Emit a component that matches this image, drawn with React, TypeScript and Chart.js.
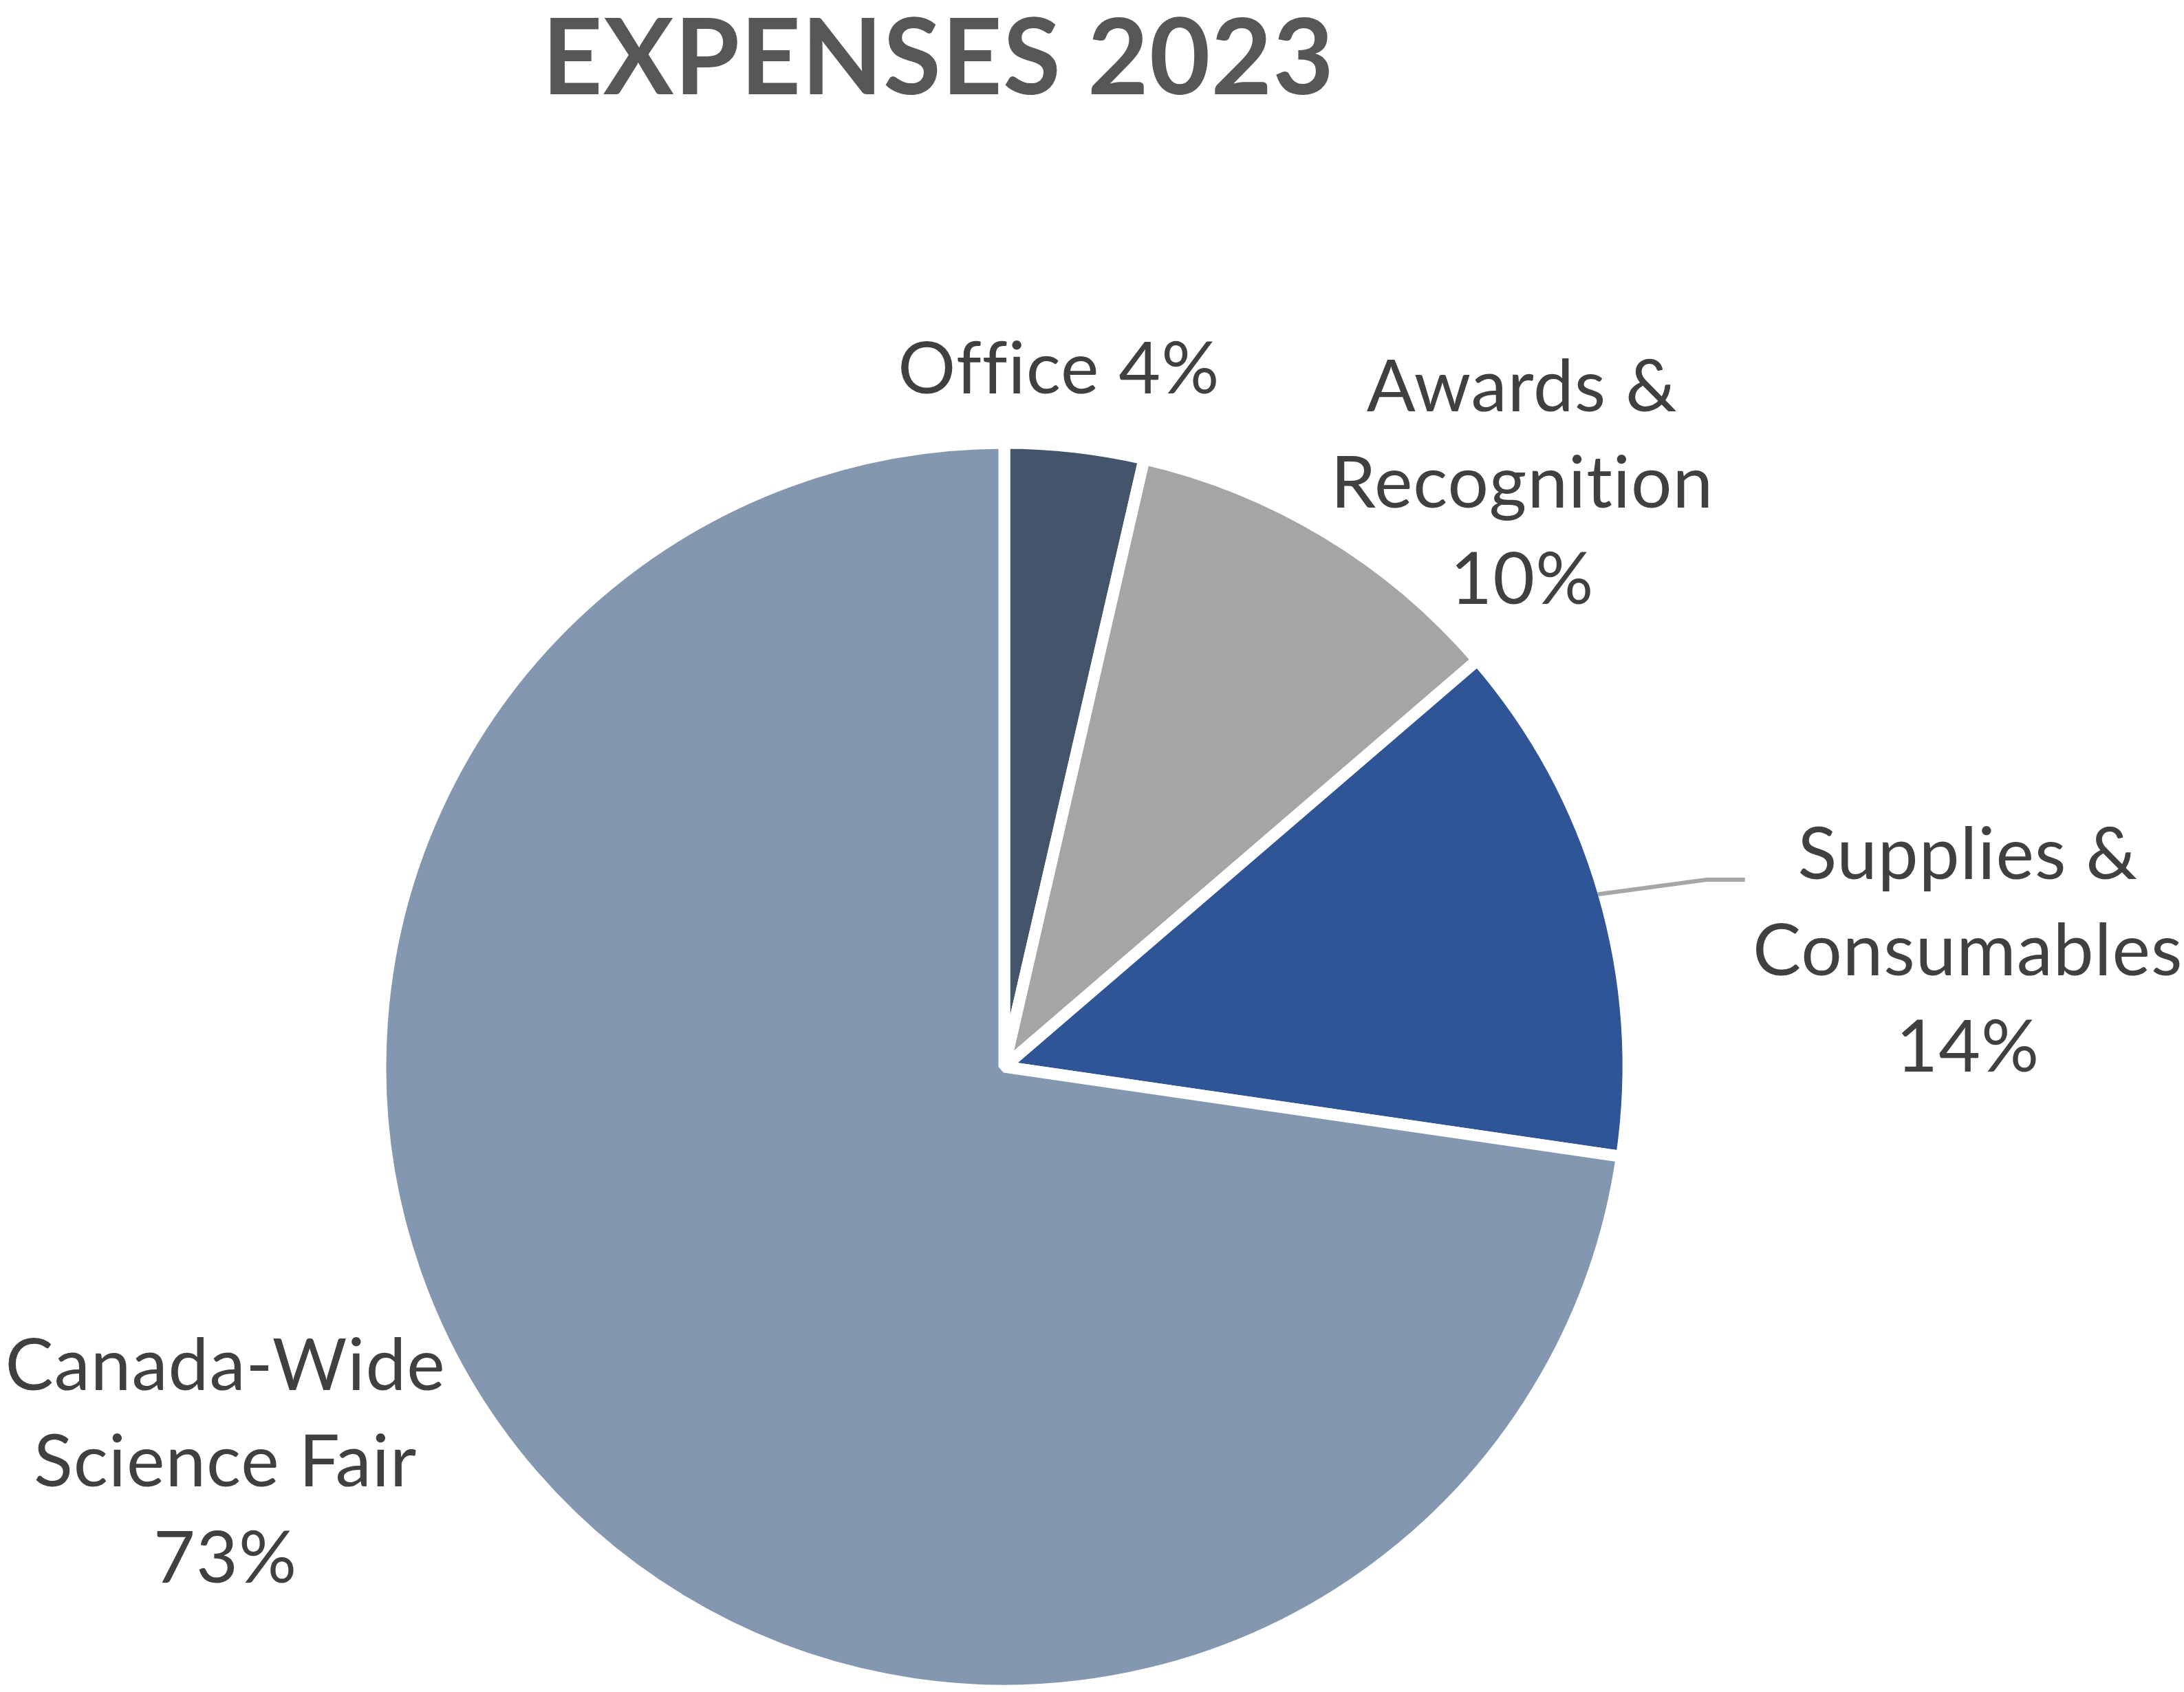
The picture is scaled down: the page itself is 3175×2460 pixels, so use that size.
import React, { useEffect, useRef } from "react";
import { Chart, registerables } from "chart.js";

Chart.register(...registerables);

// ---- data ----
const categories = ["Office", "Awards & Recognition", "Supplies & Consumables", "Canada-Wide Science Fair"];
const shares = [3.6, 10.1, 13.6, 72.7];
const sliceColors = ["#44546A", "#A5A5A5", "#2F5597", "#8497B0"];
const labelLines = [["Office"], ["Awards &", "Recognition"], ["Supplies &", "Consumables"], ["Canada-Wide", "Science Fair"]];
const percentInline = [true, false, false, false];
const chartTitle = "EXPENSES 2023";

// ---- label placement (style) ----
const labelShiftDeg = [-2.0, 10.5, 9.4, 13.9];
const labelDist = [1.131, 1.261, 1.57, 1.414];
const leaderFor = [false, false, true, false];

const LABEL_FONT = "105px Lato";
const LABEL_LINE = 140;
const BORDER = 17;

const labelPlugin = {
  id: "customLabels",
  afterDraw(chart: any) {
    const ctx = chart.ctx;
    const meta = chart.getDatasetMeta(0);
    const total = shares.reduce((a, b) => a + b, 0);
    ctx.save();
    try {
      (ctx as any).letterSpacing = "1px";
    } catch (e) {}
    // title
    ctx.fillStyle = "#575757";
    ctx.font = "bold 153px Lato";
    ctx.textAlign = "center";
    ctx.textBaseline = "middle";
    ctx.fillText(chartTitle, 1364, 88);

    meta.data.forEach((arc: any, i: number) => {
      const p = arc.getProps(["x", "y", "startAngle", "endAngle", "outerRadius"], true);
      const r = p.outerRadius - BORDER / 2;
      const mid = (p.startAngle + p.endAngle) / 2;
      const a = mid + (labelShiftDeg[i] * Math.PI) / 180;
      const lx = p.x + Math.cos(a) * r * labelDist[i];
      const ly = p.y + Math.sin(a) * r * labelDist[i];
      const pct = Math.round((shares[i] / total) * 100) + "%";
      const lines = percentInline[i]
        ? [labelLines[i].join(" ") + " " + pct]
        : [...labelLines[i], pct];
      const n = lines.length;
      const top = ly - ((n - 1) / 2) * LABEL_LINE;
      ctx.fillStyle = "#404040";
      ctx.font = LABEL_FONT;
      ctx.textAlign = "center";
      ctx.textBaseline = "middle";
      lines.forEach((t, k) => ctx.fillText(t, lx, top + k * LABEL_LINE));

      if (leaderFor[i]) {
        const sx = p.x + Math.cos(mid) * r;
        const sy = p.y + Math.sin(mid) * r;
        const ex = lx - 324;
        const ey = top + 35;
        ctx.strokeStyle = "#A6A6A6";
        ctx.lineWidth = 6;
        ctx.beginPath();
        ctx.moveTo(sx, sy);
        ctx.lineTo(ex - 56, ey);
        ctx.lineTo(ex, ey);
        ctx.stroke();
      }
    });
    ctx.restore();
  },
};

export default function App() {
  const ref = useRef<HTMLCanvasElement | null>(null);
  useEffect(() => {
    document.body.style.margin = "0";
    if (!ref.current) return;
    const chart = new Chart(ref.current, {
      type: "pie",
      data: {
        labels: categories,
        datasets: [
          {
            data: shares,
            backgroundColor: sliceColors,
            borderColor: "#FFFFFF",
            borderWidth: BORDER,
          },
        ],
      },
      options: {
        responsive: true,
        maintainAspectRatio: false,
        animation: false,
        radius: 907,
        layout: { padding: { left: 0, right: 255, top: 642, bottom: 0 } },
        plugins: {
          legend: { display: false },
          title: { display: false },
          tooltip: { enabled: false },
        },
      } as any,
      plugins: [labelPlugin],
    });
    return () => chart.destroy();
  }, []);
  return (
    <div style={{ position: "fixed", left: 0, top: 0, width: "3175px", height: "2460px", background: "#fff" }}>
      <canvas ref={ref} />
    </div>
  );
}
